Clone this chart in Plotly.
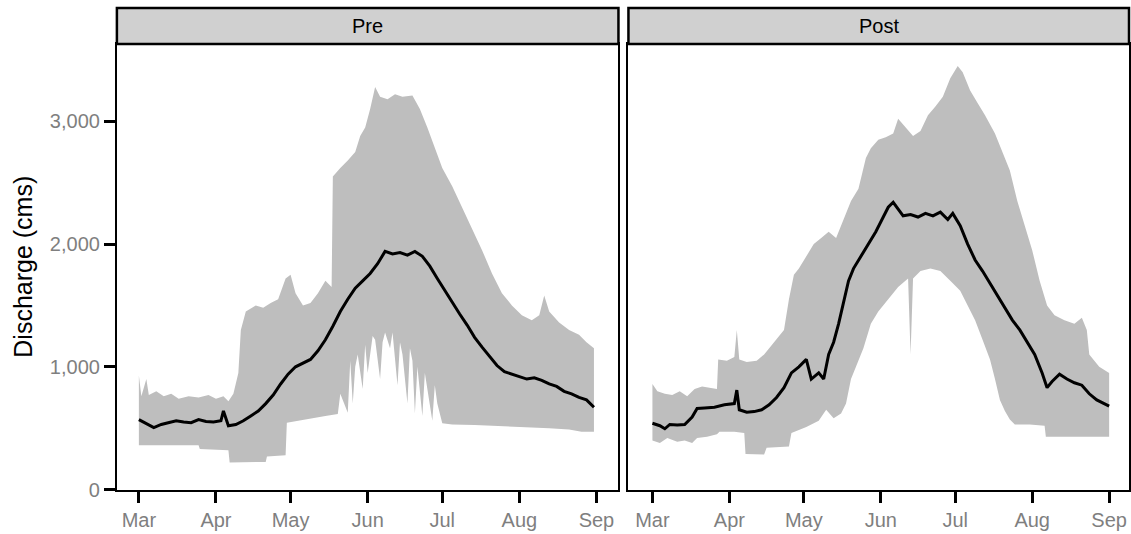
import numpy as np
import pandas as pd
import plotly.graph_objects as go

# ---------------- data (days since 1 March; discharge in cms) ----------------
panels = ["Pre", "Post"]
month_days = [0, 31, 61, 92, 122, 153, 184]
month_labels = ["Mar", "Apr", "May", "Jun", "Jul", "Aug", "Sep"]
y_ticks = [0, 1000, 2000, 3000]
y_tick_labels = ["0", "1,000", "2,000", "3,000"]

pre_upper_day = [0, 1, 3, 4, 7, 10, 13, 16, 20, 24, 28, 31, 34, 36, 38, 40, 41, 43, 47, 50,
                 53, 56, 59, 61, 63, 66, 69, 72, 75, 77.5, 78, 81, 84, 87, 89, 91, 93, 95,
                 97, 100, 103, 106, 110, 113, 116, 119, 122, 126, 130, 134, 138, 142, 146,
                 150, 154, 158, 161, 163, 165, 169, 173, 177, 180, 183]
pre_upper = [930, 760, 900, 770, 800, 760, 780, 740, 760, 750, 770, 740, 760, 720, 780, 950,
             1300, 1450, 1500, 1480, 1520, 1550, 1720, 1750, 1600, 1500, 1520, 1600, 1700,
             1650, 2550, 2620, 2680, 2750, 2880, 2950, 3100, 3280, 3200, 3180, 3220, 3200,
             3210, 3100, 2950, 2780, 2620, 2470, 2300, 2120, 1950, 1760, 1600, 1500, 1420,
             1380, 1420, 1580, 1450, 1360, 1300, 1260, 1200, 1150]

pre_lower_day = [0, 24, 24.5, 36, 36.5, 51, 51.5, 59, 59.5, 66, 75, 80, 81, 84, 85, 86, 87,
                 88, 90, 91, 92, 94, 95, 97, 98, 99, 101, 102, 104, 105, 106, 108, 109, 110,
                 111, 112, 114, 115, 116, 118, 119, 120, 122, 126, 135, 145, 155, 165, 173,
                 178, 183]
pre_lower = [360, 360, 330, 320, 220, 225, 270, 280, 545, 565, 600, 615, 780, 625, 1050, 700,
             1000, 1100, 820, 1180, 950, 1250, 1220, 900, 1200, 1280, 1150, 1280, 850, 1200,
             1100, 700, 1150, 1050, 620, 1000, 600, 950, 800, 560, 850, 700, 540, 530, 525,
             520, 510, 500, 490, 470, 470]

pre_mean_day = [0, 3, 6, 9, 12, 15, 18, 21, 24, 27, 30, 33, 34, 36, 39, 42, 45, 48, 51, 54,
                57, 60, 63, 66, 69, 72, 75, 78, 81, 84, 87, 90, 93, 96, 99, 102, 105, 108,
                111, 114, 117, 120, 123, 126, 129, 132, 135, 138, 141, 144, 147, 150, 153,
                156, 159, 162, 165, 168, 171, 174, 177, 180, 183]
pre_mean = [570, 540, 505, 530, 545, 560, 550, 545, 570, 555, 550, 560, 640, 520, 530, 560,
            600, 640, 700, 770, 860, 940, 1000, 1030, 1060, 1130, 1220, 1330, 1450, 1550,
            1640, 1700, 1760, 1840, 1940, 1920, 1930, 1910, 1940, 1900, 1820, 1720, 1620,
            1530, 1430, 1340, 1240, 1160, 1080, 1010, 960, 940, 920, 900, 910, 890, 860,
            840, 800, 780, 750, 730, 670]

post_upper_day = [0, 2, 5, 8, 11, 14, 17, 20, 23, 26, 26.5, 30, 33, 34, 35, 38, 42, 45, 49,
                  53, 55, 57, 59, 62, 65, 68, 71, 74, 77, 80, 83, 86, 88, 91, 94, 97, 99,
                  102, 105, 108, 111, 114, 117, 120, 123, 125, 128, 131, 134, 138, 141, 144,
                  147, 150, 153, 156, 159, 162, 166, 170, 173, 175, 176, 180, 184]
post_upper = [860, 800, 780, 770, 800, 760, 820, 840, 830, 820, 1060, 1050, 1080, 1300, 1060,
              1040, 1050, 1100, 1200, 1300, 1550, 1750, 1800, 1900, 2000, 2050, 2100, 2050,
              2200, 2350, 2450, 2700, 2780, 2850, 2870, 2900, 3020, 2950, 2880, 2920, 3050,
              3120, 3200, 3350, 3450, 3400, 3250, 3150, 3050, 2900, 2750, 2600, 2350, 2150,
              1950, 1700, 1500, 1420, 1380, 1350, 1400, 1300, 1100, 1000, 950]

post_lower_day = [0, 3, 6, 10, 13, 16, 18, 22, 26, 27, 33, 37, 37.5, 45, 46, 55, 56, 62, 67,
                  70, 73, 76, 78, 80, 82, 85, 88, 91, 95, 99, 103, 104, 105, 108, 112, 116,
                  120, 124, 127, 130, 133, 136, 138, 140, 142, 144, 146, 152, 158, 158.5, 184]
post_lower = [400, 380, 420, 390, 400, 380, 420, 430, 450, 470, 470, 460, 290, 285, 340, 350,
              460, 510, 560, 650, 580, 620, 700, 900, 1000, 1150, 1350, 1450, 1550, 1650, 1720,
              1100, 1720, 1780, 1800, 1780, 1700, 1620, 1500, 1380, 1220, 1060, 900, 730, 640,
              570, 530, 530, 520, 430, 430]

post_mean_day = [0, 3, 5, 7, 10, 13, 16, 18, 21, 25, 29, 33, 34, 35, 38, 41, 44, 47, 50, 53,
                 56, 59, 62, 64, 67, 69, 71, 73, 75, 77, 79, 81, 84, 87, 90, 93, 95, 97, 99,
                 101, 104, 107, 110, 113, 116, 119, 121, 124, 127, 130, 133, 136, 139, 142,
                 145, 148, 151, 154, 157, 159, 161, 164, 167, 170, 173, 176, 179, 182, 184]
post_mean = [540, 520, 495, 530, 525, 530, 590, 660, 665, 670, 690, 700, 810, 650, 630, 635,
             650, 690, 750, 830, 950, 1000, 1060, 900, 950, 900, 1100, 1200, 1350, 1520, 1700,
             1800, 1900, 2000, 2100, 2220, 2300, 2340, 2280, 2230, 2240, 2220, 2250, 2230,
             2260, 2200, 2250, 2150, 2000, 1870, 1780, 1680, 1580, 1480, 1380, 1300, 1200,
             1100, 950, 830, 880, 940, 900, 870, 850, 780, 730, 700, 680]

# ---------------- helpers ----------------
BASE = pd.Timestamp("2001-03-01")


def to_dates(days):
    return BASE + pd.to_timedelta(np.asarray(days, dtype=float), unit="D")


W, H = 1131, 534
H_EFF = 523.5          # effective rendered height used to place paper-fraction items
RIBBON = "#BEBEBE"
TICK_GREY = "#7F7F7F"
FONT = "Liberation Sans, Arial, sans-serif"

panel_px = [(117, 619), (629, 1130)]
x_ranges_days = [(-8.84, 192.85), (-9.66, 192.0)]
top_px, bottom_px = 44, 490
strip_top_px = 8


def py(px):
    return 1 - px / H_EFF


series = {
    "Pre": (pre_upper_day, pre_upper, pre_lower_day, pre_lower, pre_mean_day, pre_mean),
    "Post": (post_upper_day, post_upper, post_lower_day, post_lower, post_mean_day, post_mean),
}

fig = go.Figure()
for i, name in enumerate(panels):
    ud, uv, ld, lv, md, mv = series[name]
    xs = list(to_dates(ud)) + list(to_dates(ld))[::-1]
    ys = list(uv) + list(lv)[::-1]
    xa = "x" if i == 0 else "x2"
    ya = "y" if i == 0 else "y2"
    fig.add_trace(go.Scatter(x=xs, y=ys, fill="toself", fillcolor=RIBBON, mode="lines",
                             line=dict(width=0, color=RIBBON), hoverinfo="skip",
                             showlegend=False, xaxis=xa, yaxis=ya))
    fig.add_trace(go.Scatter(x=to_dates(md), y=mv, mode="lines",
                             line=dict(color="black", width=3), showlegend=False,
                             name=name, xaxis=xa, yaxis=ya))

y_dom = [py(bottom_px), py(top_px)]
layout = dict(
    width=W, height=H, margin=dict(l=0, r=0, t=0, b=0),
    paper_bgcolor="white", plot_bgcolor="white",
    font=dict(family=FONT, size=20, color="black"),
    showlegend=False,
)
for i in range(2):
    key = "xaxis" if i == 0 else "xaxis2"
    x0, x1 = panel_px[i]
    r0, r1 = x_ranges_days[i]
    layout[key] = dict(
        domain=[x0 / W, x1 / W], anchor="y" if i == 0 else "y2",
        type="date", range=[to_dates([r0])[0], to_dates([r1])[0]],
        tickmode="array", tickvals=list(to_dates(month_days)), ticktext=month_labels,
        ticks="outside", ticklen=11, tickwidth=3, tickcolor="black",
        tickfont=dict(size=20, color=TICK_GREY, family=FONT),
        showline=True, mirror=True, linecolor="black", linewidth=2,
        showgrid=False, zeroline=False,
    )
layout["yaxis"] = dict(
    domain=y_dom, anchor="x", range=[0, 3630],
    tickmode="array", tickvals=y_ticks, ticktext=y_tick_labels,
    ticks="outside", ticklen=11, tickwidth=3, tickcolor="black",
    tickfont=dict(size=20, color=TICK_GREY, family=FONT),
    showline=True, mirror=True, linecolor="black", linewidth=2,
    showgrid=False, zeroline=False,
)
layout["yaxis2"] = dict(
    domain=y_dom, anchor="x2", matches="y", range=[0, 3630],
    showticklabels=False, ticks="",
    showline=True, mirror=True, linecolor="black", linewidth=2,
    showgrid=False, zeroline=False,
)

shapes = []
annotations = []
for i, name in enumerate(panels):
    x0, x1 = panel_px[i]
    shapes.append(dict(type="rect", xref="paper", yref="paper",
                       x0=x0 / W, x1=x1 / W, y0=py(top_px), y1=py(strip_top_px),
                       fillcolor="#D0D0D0", line=dict(color="black", width=2.5)))
    annotations.append(dict(text=name, xref="paper", yref="paper",
                            x=(x0 + x1) / 2 / W, y=py((top_px + strip_top_px) / 2),
                            xanchor="center", yanchor="middle", showarrow=False,
                            font=dict(size=20, color="black", family=FONT)))
annotations.append(dict(text="Discharge (cms)", xref="paper", yref="paper",
                        x=23 / W, y=py((top_px + bottom_px) / 2), textangle=-90,
                        xanchor="center", yanchor="middle", showarrow=False,
                        font=dict(size=25, color="black", family=FONT)))
layout["shapes"] = shapes
layout["annotations"] = annotations

fig.update_layout(**layout)
fig.write_html(
    "out.html",
    config={"displayModeBar": False},
    post_script="document.body.style.margin='0';document.body.style.overflow='hidden';",
)
